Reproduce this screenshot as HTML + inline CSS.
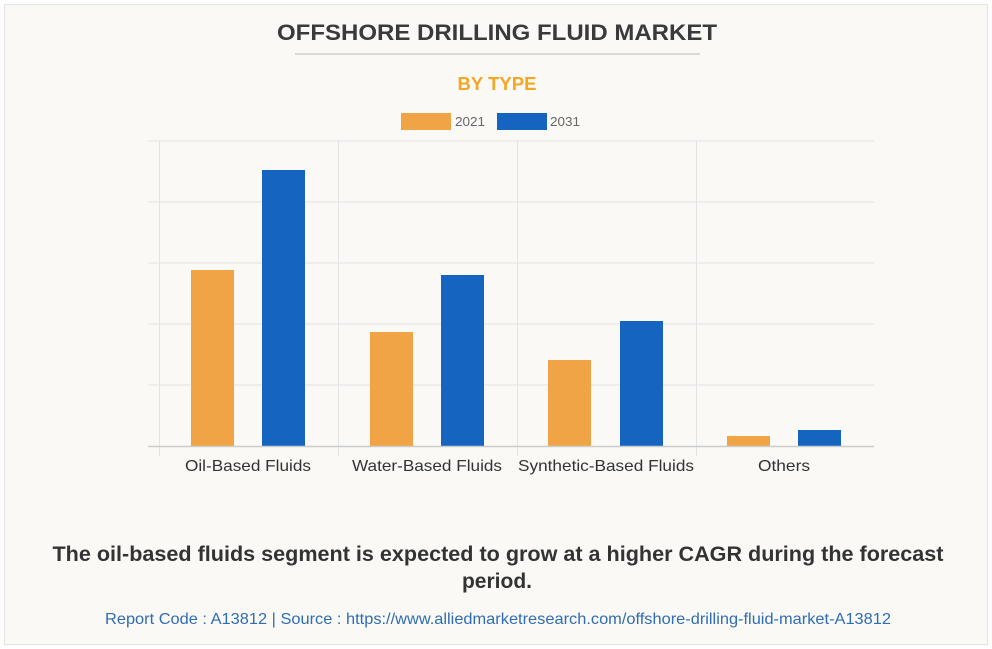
<!DOCTYPE html>
<html><head><style>
body{margin:0;background:#fff;}
.card{position:absolute;left:4px;top:4px;width:982px;height:639px;background:#faf9f5;border:1px solid #e4e4e4;}
svg text{font-family:"Liberation Sans",sans-serif;}
</style></head><body>
<div class="card"></div>
<svg width="992" height="649" style="position:absolute;left:0;top:0">
<text x="497" y="40" text-anchor="middle" font-size="22" font-weight="bold" fill="#3a3a3a" textLength="440" lengthAdjust="spacingAndGlyphs">OFFSHORE DRILLING FLUID MARKET</text>
<line x1="295" y1="54" x2="700" y2="54" stroke="#cfcfcf" stroke-width="1.5"/>
<text x="497" y="90" text-anchor="middle" font-size="18" font-weight="bold" fill="#f5a623" textLength="79" lengthAdjust="spacingAndGlyphs">BY TYPE</text>
<rect x="401" y="113" width="50" height="17" fill="#f0a445"/>
<text x="455" y="126" font-size="13" fill="#666" textLength="30" lengthAdjust="spacingAndGlyphs">2021</text>
<rect x="497" y="113" width="50" height="17" fill="#1565c0"/>
<text x="550" y="126" font-size="13" fill="#666" textLength="30" lengthAdjust="spacingAndGlyphs">2031</text>
<g stroke="#e4e4e4" stroke-width="1">
<line x1="148" y1="141" x2="874" y2="141"/>
<line x1="148" y1="202" x2="874" y2="202"/>
<line x1="148" y1="263" x2="874" y2="263"/>
<line x1="148" y1="324" x2="874" y2="324"/>
<line x1="148" y1="385" x2="874" y2="385"/>
<line x1="159.5" y1="141" x2="159.5" y2="456"/>
<line x1="338.5" y1="141" x2="338.5" y2="456"/>
<line x1="517.5" y1="141" x2="517.5" y2="456"/>
<line x1="696.5" y1="141" x2="696.5" y2="456"/>
</g>
<g fill="#f0a445">
<rect x="191" y="270" width="43" height="176"/>
<rect x="370" y="332" width="43" height="114"/>
<rect x="548" y="360" width="43" height="86"/>
<rect x="727" y="436" width="43" height="10"/>
</g>
<g fill="#1565c0">
<rect x="262" y="170" width="43" height="276"/>
<rect x="441" y="275" width="43" height="171"/>
<rect x="620" y="321" width="43" height="125"/>
<rect x="798" y="430" width="43" height="16"/>
</g>
<line x1="148" y1="446.5" x2="874" y2="446.5" stroke="#ccc" stroke-width="1.5"/>
<g font-size="16" fill="#333" text-anchor="middle">
<text x="248" y="471" textLength="126" lengthAdjust="spacingAndGlyphs">Oil-Based Fluids</text>
<text x="427" y="471" textLength="150" lengthAdjust="spacingAndGlyphs">Water-Based Fluids</text>
<text x="606" y="471" textLength="176" lengthAdjust="spacingAndGlyphs">Synthetic-Based Fluids</text>
<text x="784" y="471" textLength="52" lengthAdjust="spacingAndGlyphs">Others</text>
</g>
<text x="498" y="561" text-anchor="middle" font-size="21" font-weight="bold" fill="#333" textLength="891" lengthAdjust="spacingAndGlyphs">The oil-based fluids segment is expected to grow at a higher CAGR during the forecast</text>
<text x="497" y="588" text-anchor="middle" font-size="21" font-weight="bold" fill="#333">period.</text>
<text x="498" y="624" text-anchor="middle" font-size="16" fill="#2f6db5" textLength="786" lengthAdjust="spacingAndGlyphs">Report Code : A13812  |  Source : https://www.alliedmarketresearch.com/offshore-drilling-fluid-market-A13812</text>
</svg>
</body></html>
